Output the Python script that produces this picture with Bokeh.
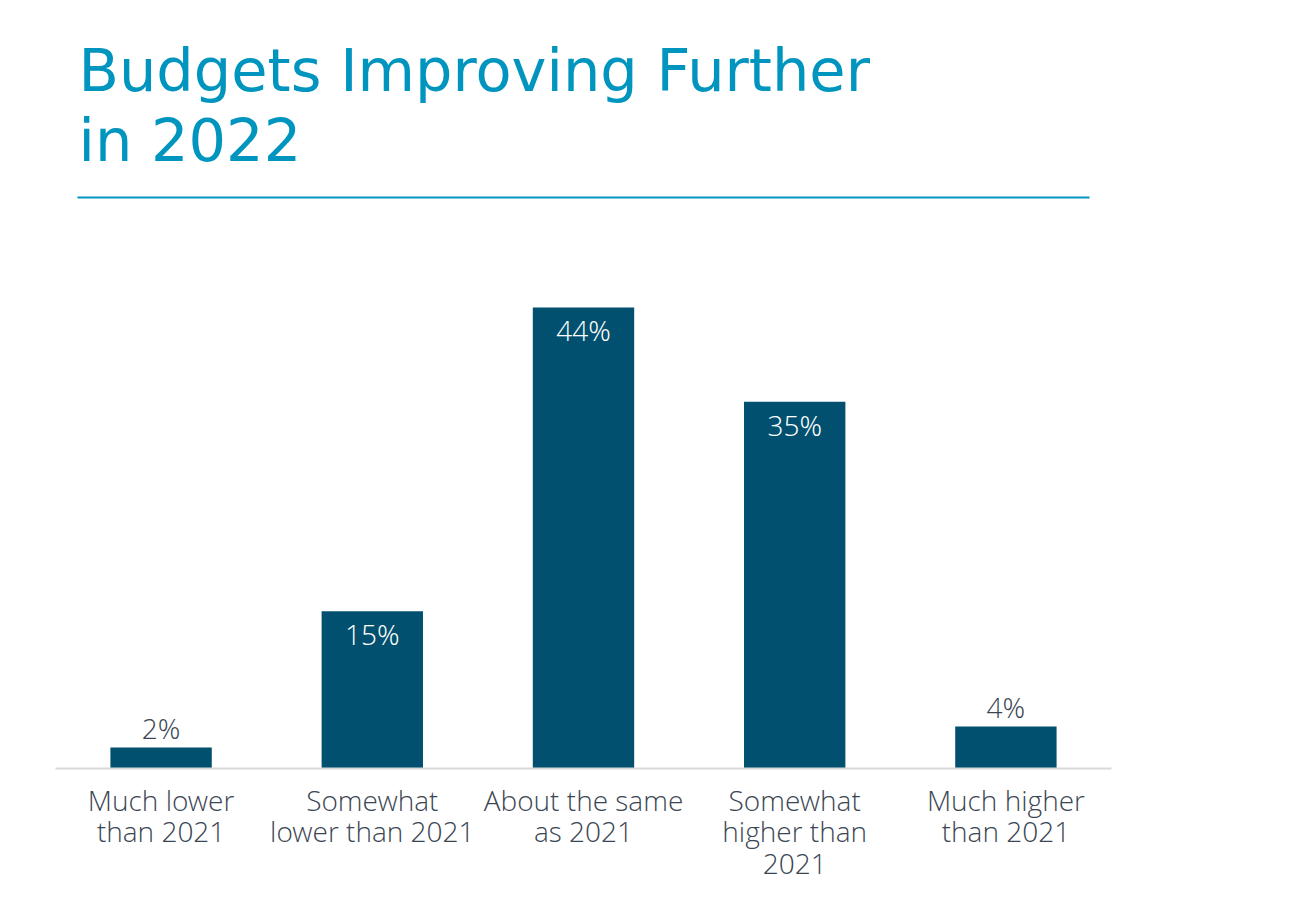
from bokeh.plotting import figure
from bokeh.models import FactorRange, Range1d, Label, BoxAnnotation, ColumnDataSource
from bokeh.core.properties import value
from bokeh.embed import file_html
from bokeh.resources import INLINE

# ---- data ----
categories = [
    "Much lower\nthan 2021",
    "Somewhat\nlower than 2021",
    "About the same\nas 2021",
    "Somewhat\nhigher than\n2021",
    "Much higher\nthan 2021",
]
values = [2, 15, 44, 35, 4]
value_labels = ["2%", "15%", "44%", "35%", "4%"]
title_lines = ["Budgets Improving Further", "in 2022"]

# ---- styles ----
BAR = "#02506f"
BLUE = "#0095bf"
TEXT = "#3b4653"
LIGHT_FONT = "'Open Sans Light', 'Lato Light', Lato, sans-serif"
TITLE_FONT = "'DejaVu Sans', sans-serif"

p = figure(
    width=1313, height=908,
    x_range=FactorRange(*categories, range_padding=0),
    y_range=Range1d(0, 73.3),
    output_backend="svg", toolbar_location=None,
    y_axis_location=None,
    min_border_left=55, min_border_right=202, min_border_top=0, min_border_bottom=140,
)
p.outline_line_color = None
p.xgrid.visible = False
p.ygrid.visible = False
p.background_fill_color = "white"
p.border_fill_color = "white"

p.vbar(x=categories, top=values, width=0.48, fill_color=BAR, line_color=None)

inside = [v >= 10 for v in values]
src = ColumnDataSource(dict(
    x=categories, y=values, t=value_labels,
    off=[23 if i else -20 for i in inside],
    col=["white" if i else TEXT for i in inside],
))
p.text(x="x", y="y", text="t", y_offset="off", text_color="col", source=src,
       text_align="center", text_baseline="middle",
       text_font=value(LIGHT_FONT), text_font_size="28px")

ax = p.xaxis[0]
ax.axis_line_color = "#d9d9d9"
ax.axis_line_width = 2
ax.major_tick_line_color = None
ax.minor_tick_line_color = None
ax.major_label_text_font = LIGHT_FONT
ax.major_label_text_font_size = "28px"
ax.major_label_text_color = TEXT
ax.major_label_standoff = 6
ax.major_label_text_line_height = 0.83

frame_bottom = 768
for i, line in enumerate(title_lines):
    p.add_layout(Label(
        x=78 - 55, y=frame_bottom - (70 + 70 * i), x_units="screen", y_units="screen",
        text=line, text_font=TITLE_FONT, text_font_size="59px",
        text_color=BLUE, text_baseline="alphabetic", text_align="left",
    ))

p.add_layout(BoxAnnotation(left=77 - 55, right=1089 - 55,
                           top=frame_bottom - 196, bottom=frame_bottom - 198,
                           left_units="screen", right_units="screen",
                           top_units="screen", bottom_units="screen",
                           fill_color=BLUE, fill_alpha=1, line_color=None))
p.add_layout(BoxAnnotation(left=-55, right=-53,
                           top=frame_bottom - 196, bottom=frame_bottom - 198,
                           left_units="screen", right_units="screen",
                           top_units="screen", bottom_units="screen",
                           fill_color=BLUE, fill_alpha=1, line_color=None))

open("out.html", "w").write(file_html(p, INLINE))
